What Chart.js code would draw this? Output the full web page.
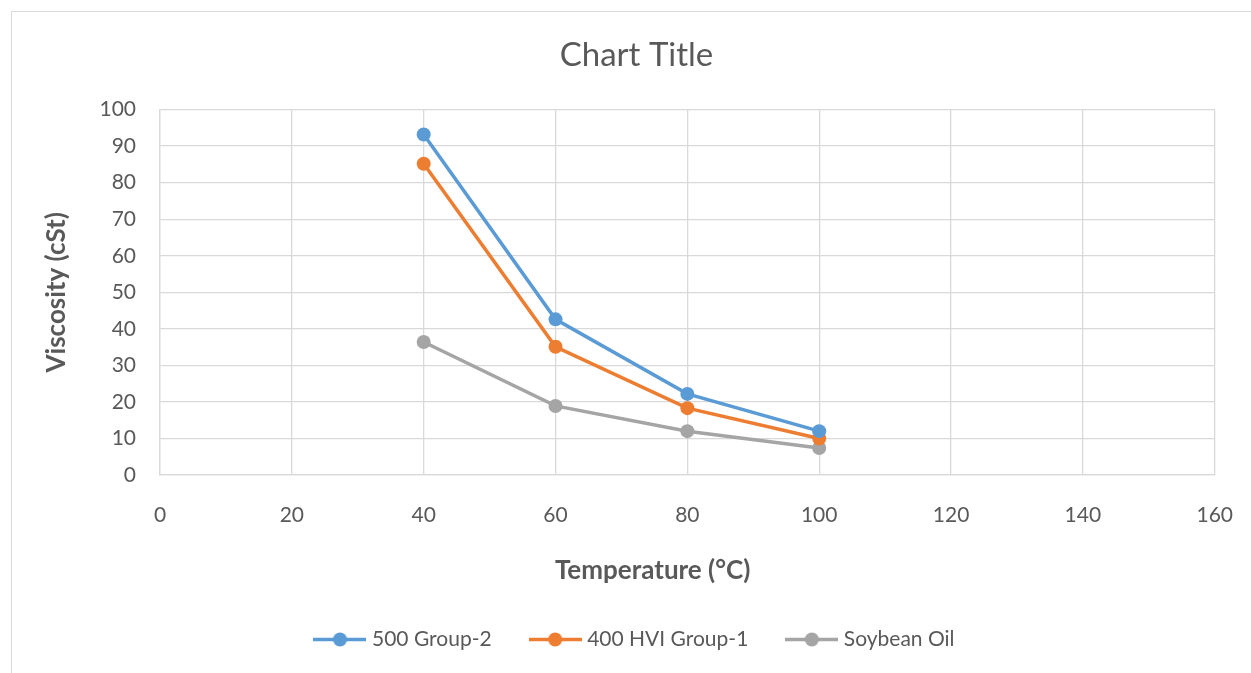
<!DOCTYPE html>
<html>
<head>
<meta charset="utf-8">
<script src="https://cdn.jsdelivr.net/npm/chart.js@4/dist/chart.umd.min.js"></script>
<style>
  html, body { margin: 0; padding: 0; background: #fff; overflow: hidden; }
  #ramka { position: absolute; left: 11px; top: 11px; width: 1260px; height: 700px; border: 1px solid #d9d9d9; }
  #wykres { position: absolute; left: 12px; top: 12px; }
</style>
</head>
<body>
<div id="ramka"></div>
<canvas id="wykres" width="1249" height="661"></canvas>
<script>
// dane
var temperatura = [40, 60, 80, 100];
var grupa2 = [93.2, 42.6, 22.2, 12.0];
var hviGrupa1 = [85.2, 35.1, 18.3, 10.0];
var olejSojowy = [36.4, 18.9, 12.0, 7.4];
var nazwySerii = ['500 Group-2', '400 HVI Group-1', 'Soybean Oil'];
var kolory = ['#5b9bd5', '#ed7d31', '#a5a5a5'];

var szary = '#595959';
var siatka = '#d9d9d9';

function punkty(wartosci) {
  return temperatura.map(function (t, i) { return { x: t, y: wartosci[i] }; });
}

// znaczek legendy: linia z kropka
function znaczek(kolor) {
  var c = document.createElement('canvas');
  c.width = 53; c.height = 15;
  var g = c.getContext('2d');
  g.strokeStyle = kolor; g.lineWidth = 3.5;
  g.beginPath(); g.moveTo(0, 7.5); g.lineTo(53, 7.5); g.stroke();
  g.fillStyle = kolor;
  g.beginPath(); g.arc(26.5, 7.5, 7, 0, Math.PI * 2); g.fill();
  return c;
}

var serie = [grupa2, hviGrupa1, olejSojowy].map(function (w, i) {
  return {
    label: nazwySerii[i],
    data: punkty(w),
    showLine: true,
    borderColor: kolory[i],
    backgroundColor: kolory[i],
    borderWidth: 3.5,
    pointRadius: 7,
    pointBorderWidth: 0,
    pointStyle: 'circle'
  };
});

var ctx = document.getElementById('wykres').getContext('2d');
var chart = new Chart(ctx, {
  type: 'scatter',
  data: { datasets: serie },
  options: {
    responsive: false,
    animation: false,
    layout: { padding: { left: 0, right: 0, top: 0, bottom: 13 } },
    plugins: {
      tooltip: { enabled: false },
      title: {
        display: true,
        text: 'Chart Title',
        color: szary,
        font: { family: 'Lato', size: 33, weight: 'normal' },
        padding: { top: 24, bottom: 34 }
      },
      legend: {
        position: 'bottom',
        labels: {
          usePointStyle: true,
          pointStyleWidth: 43,
          padding: 42,
          color: szary,
          font: { family: 'Lato', size: 21 },
          generateLabels: function (ch) {
            return ch.data.datasets.map(function (ds, i) {
              return { text: ds.label, pointStyle: znaczek(kolory[i]), fontColor: szary, datasetIndex: i, lineWidth: 0, strokeStyle: 'transparent', fillStyle: kolory[i] };
            });
          }
        }
      }
    },
    scales: {
      x: {
        type: 'linear',
        min: 0, max: 160,
        ticks: { stepSize: 20, color: szary, padding: 28, font: { family: 'Lato', size: 21 } },
        grid: { color: siatka, lineWidth: 1.3, drawTicks: false },
        border: { color: siatka, width: 1.3 },
        title: {
          display: true,
          text: 'Temperature (°C)' + '\u00a0'.repeat(11),
          color: szary,
          font: { family: 'Lato', size: 26, weight: 'bold' },
          padding: { top: 0, bottom: 1 }
        },
        afterFit: function (s) { s.height = 112; }
      },
      y: {
        min: 0, max: 100,
        ticks: { stepSize: 10, color: szary, padding: 24, font: { family: 'Lato', size: 21 } },
        grid: { color: siatka, lineWidth: 1.3, drawTicks: false },
        border: { color: siatka, width: 1.3 },
        title: {
          display: true,
          text: 'Viscosity (cSt)',
          color: szary,
          font: { family: 'Lato', size: 26, weight: 'bold' },
          padding: { top: 29, bottom: 0 }
        },
        afterFit: function (s) { s.width = 148; }
      },
      // pusta os po prawej - tylko odstep od krawedzi
      odstep: {
        type: 'linear',
        position: 'right',
        display: true,
        grid: { display: false },
        ticks: { display: false },
        border: { display: false },
        afterFit: function (s) { s.width = 46; }
      }
    }
  }
});
</script>
</body>
</html>
